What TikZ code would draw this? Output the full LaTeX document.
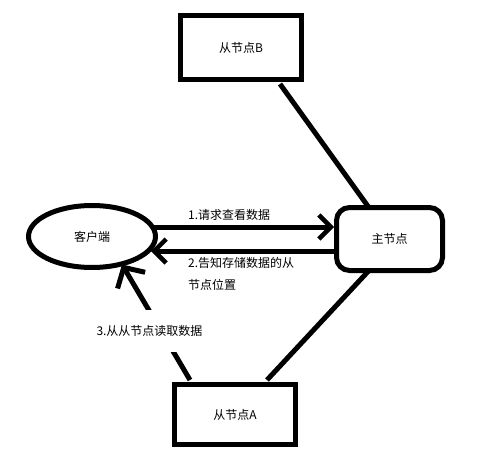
\documentclass[tikz,border=0pt]{standalone}
\usepackage{fontspec}
\newfontfamily\cjk{Noto Sans CJK SC}
\usetikzlibrary{arrows.meta,shapes.geometric}
\begin{document}
\begin{tikzpicture}[x=1pt,y=-1pt,
  thick line/.style={line width=5pt},
  box/.style={draw,line width=5pt,rectangle,inner sep=0pt},
  lbl/.style={font=\cjk\fontsize{12}{22}\selectfont,inner sep=0pt},
  arr/.style={thick line,-{Straight Barb[length=12pt,width=24pt,line width=4.5pt]}},
  bigarr/.style={thick line,-{Straight Barb[length=15pt,width=32pt,line width=5pt]}}
]
\useasboundingbox (0,0) rectangle (485,455);
\node[box,minimum width=121pt,minimum height=64pt,lbl] (B) at (241,47.5) {从节点B};
\node[box,minimum width=121pt,minimum height=60pt,lbl] (A) at (235,414.5) {从节点A};
\node[box,rounded corners=13pt,minimum width=106pt,minimum height=63pt,lbl] (M) at (389.5,239) {主节点};
\node[draw,line width=5pt,ellipse,minimum width=127pt,minimum height=62pt,inner sep=0pt,lbl] (C) at (92,236.5) {客户端};
% connectors
\draw[thick line] ([xshift=-24pt,yshift=-2pt]B.south east) -- ([xshift=-21pt,yshift=-2pt]M.north);
\draw[thick line] ([xshift=-21pt,yshift=2pt]M.south) -- ([xshift=32pt,yshift=2pt]A.north);
\draw[arr] ([xshift=-4pt,yshift=9.5pt]C.east) -- ([yshift=12pt]M.west);
\draw[arr] ([yshift=-12pt]M.west) -- ([xshift=59pt,yshift=-14.5pt]C.center);
\draw[bigarr] ([xshift=18pt,yshift=2pt]A.north west) -- ([xshift=30pt,yshift=-28pt]C.center);
% labels
\node[lbl,anchor=west] (L1) at (188,215) {1.请求查看数据};
\node[lbl,anchor=north west,align=left] (L2) at (188,257) {2.告知存储数据的从\\节点位置};
\node[lbl,fill=white,inner xsep=2pt,inner ysep=15pt] (L3) at (149.5,331) {3.从从节点读取数据};
\end{tikzpicture}
\end{document}
